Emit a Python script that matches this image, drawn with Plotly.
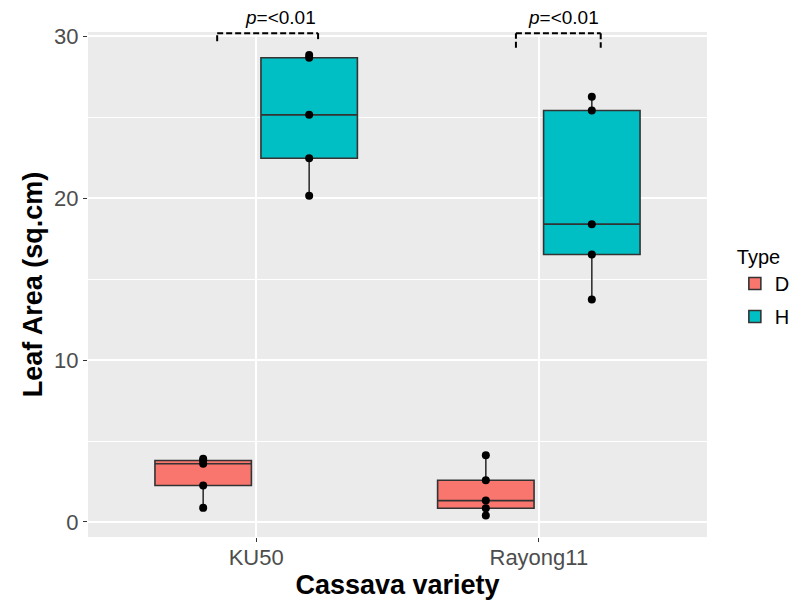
import plotly.graph_objects as go

# ---- data ----
varieties = ["KU50", "Rayong11"]
types = ["D", "H"]
d_ku50 = [0.87, 2.25, 3.6, 3.8, 3.9]
d_rayong11 = [0.4, 0.85, 1.32, 2.58, 4.12]
h_ku50 = [20.15, 22.47, 25.15, 28.68, 28.85]
h_rayong11 = [13.75, 16.52, 18.4, 25.42, 26.27]
p_labels = ["<i>p</i>=&lt;0.01", "<i>p</i>=&lt;0.01"]
y_ticks = [0, 10, 20, 30]

colors = {"D": "#F8766D", "H": "#00BFC4"}
FONT = "Liberation Sans, Arial, sans-serif"

fig = go.Figure()
series = {"D": (d_ku50, d_rayong11), "H": (h_ku50, h_rayong11)}
for t in types:
    a, b = series[t]
    fig.add_trace(go.Box(
        x=[varieties[0]] * len(a) + [varieties[1]] * len(b),
        y=a + b,
        name=t,
        legendgroup=t,
        fillcolor=colors[t],
        line=dict(color="#333333", width=1.6),
        whiskerwidth=0,
        boxpoints="all",
        jitter=0,
        pointpos=0,
        quartilemethod="inclusive",
        marker=dict(color="black", size=8),
    ))

# significance brackets (offsets relative to category positions)
bracket_left = [-0.138, -0.081]
bracket_right = [0.219, 0.219]
bracket_top = 30.2
bracket_bottom = [29.7, 29.3]
text_offset = 0.086
for i in range(len(varieties)):
    x0 = i + bracket_left[i]
    x1 = i + bracket_right[i]
    for (xa, ya, xb, yb) in [(x0, bracket_bottom[i], x0, bracket_top),
                             (x0, bracket_top, x1, bracket_top),
                             (x1, bracket_top, x1, bracket_bottom[i])]:
        fig.add_shape(type="line", xref="x", yref="y", x0=xa, y0=ya, x1=xb, y1=yb,
                      line=dict(color="black", width=2, dash="6px,3px"))
    fig.add_annotation(x=i + text_offset, y=1.028, xref="x", yref="paper",
                       text=p_labels[i], showarrow=False, yanchor="middle",
                       font=dict(family=FONT, size=19, color="black"))

fig.update_layout(
    width=805, height=600,
    margin=dict(l=80, r=106, t=24, b=71, autoexpand=False),
    paper_bgcolor="white",
    plot_bgcolor="#EBEBEB",
    boxmode="group",
    boxgap=0.25,
    boxgroupgap=0.09,
    font=dict(family=FONT),
    showlegend=True,
    legend=dict(
        title=dict(text="Type", font=dict(size=20, color="black")),
        font=dict(size=20, color="black"),
        x=1.045, xanchor="left", y=0.592, yanchor="top",
        tracegroupgap=4,
        bgcolor="rgba(0,0,0,0)",
    ),
)
fig.update_xaxes(
    automargin=False,
    categoryorder="array", categoryarray=varieties,
    range=[-0.595, 1.595],
    showgrid=True, gridcolor="white", gridwidth=1.5,
    ticks="outside", ticklen=4, tickcolor="#333333", tickwidth=1,
    ticklabelstandoff=-3,
    tickfont=dict(size=22, color="#4D4D4D"),
    title=dict(text="<b>Cassava variety</b>", font=dict(size=27, color="black"), standoff=0),
    zeroline=False, showline=False,
)
fig.update_yaxes(
    automargin=False,
    range=[-0.93, 30.27],
    tickvals=y_ticks,
    showgrid=True, gridcolor="white", gridwidth=1.5,
    minor=dict(dtick=5, tick0=0, showgrid=True, gridcolor="white", gridwidth=0.7),
    ticks="outside", ticklen=4, tickcolor="#333333", tickwidth=1,
    tickfont=dict(size=22, color="#4D4D4D"),
    title=dict(text="<b>Leaf Area (sq.cm)</b>", font=dict(size=27, color="black"), standoff=3),
    zeroline=False, showline=False,
)

fig.write_html("out.html")
